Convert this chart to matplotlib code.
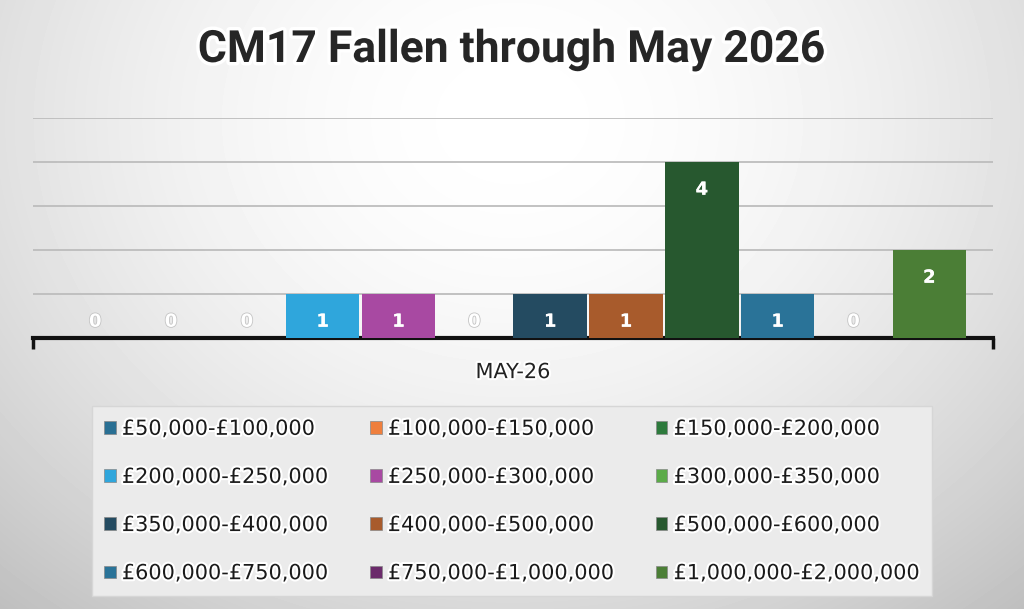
import numpy as np
import matplotlib
matplotlib.use("Agg")
import matplotlib.pyplot as plt
import matplotlib.patheffects as pe
from matplotlib.patches import Patch

# price bands (legend order) and fallen-through counts for May-26
bands = [
    "£50,000-£100,000", "£100,000-£150,000", "£150,000-£200,000",
    "£200,000-£250,000", "£250,000-£300,000", "£300,000-£350,000",
    "£350,000-£400,000", "£400,000-£500,000", "£500,000-£600,000",
    "£600,000-£750,000", "£750,000-£1,000,000", "£1,000,000-£2,000,000",
]
counts = [0, 0, 0, 1, 1, 0, 1, 1, 4, 1, 0, 2]
colors = [
    "#296f93", "#ef7f3d", "#2d7a3c",
    "#2fa6dc", "#a849a2", "#5bab48",
    "#244b61", "#a85b2c", "#27582f",
    "#2a7398", "#6b2b6b", "#4b7e36",
]
month = "MAY-26"
title = "CM17 Fallen through May 2026"

W, H = 1024, 609
fig = plt.figure(figsize=(W / 100, H / 100), dpi=100)

# radial grey background
bg = fig.add_axes([0, 0, 1, 1], zorder=-10)
yy, xx = np.mgrid[0:H, 0:W]
r = np.sqrt(((xx - 512) / 720.0) ** 2 + ((yy - 120) / 600.0) ** 2)
shade = np.clip(1.0 - 0.22 * r ** 1.8, 0, 1)
bg.imshow(shade, cmap="gray", vmin=0, vmax=1, aspect="auto",
          extent=[0, W, H, 0], interpolation="bilinear")
bg.axis("off")

ax = fig.add_axes([33 / W, 1 - 338 / H, 960 / W, 220 / H])
ax.patch.set_alpha(0)
x = np.arange(len(counts))
ax.bar(x, counts, width=0.97, color=colors, zorder=3)
ax.set_xlim(-0.82, 11.84)
ax.set_ylim(0, 5)

for yv in range(1, 6):
    ax.axhline(yv, color="#bdbdbd", lw=1.3, zorder=1)

for xi, v in zip(x, counts):
    ax.text(xi, max(v, 1) - 0.63, str(v), ha="center", va="center",
            color="white", fontsize=13, fontweight="bold", zorder=4,
            path_effects=[pe.withStroke(linewidth=1.2, foreground="#c4c4c4" if v == 0 else "none")])

for s in ["top", "right", "left"]:
    ax.spines[s].set_visible(False)
ax.spines["bottom"].set_linewidth(3)
ax.spines["bottom"].set_color("#111111")
ax.set_yticks([])
ax.set_xticks(list(ax.get_xlim()))
ax.set_xticklabels([])
ax.tick_params(axis="x", length=8, width=2.5, color="#111111", direction="out")

ax.text(0.5, -0.155, month, transform=ax.transAxes, ha="center", va="center",
        fontsize=15, color="#222222",
        path_effects=[pe.withStroke(linewidth=3, foreground="white")])

fig.text(0.5, 1 - 50 / H, title, ha="center", va="center", fontsize=32,
         fontweight="bold", family=["Roboto", "DejaVu Sans"], color="#262626",
         path_effects=[pe.withStroke(linewidth=5, foreground="white")])

# legend is filled row by row, matplotlib fills columns first
ncol = 3
nrow = len(bands) // ncol
order = [r * ncol + c for c in range(ncol) for r in range(nrow)]
handles = [Patch(facecolor=colors[i], edgecolor="#888888", lw=0.5) for i in order]
labels = [bands[i] for i in order]
leg = fig.legend(handles, labels, ncol=ncol, loc="center",
                 bbox_to_anchor=(512 / W, 1 - 501 / H),
                 fontsize=15, frameon=True, fancybox=False,
                 handlelength=0.55, handleheight=0.55, handletextpad=0.3,
                 columnspacing=2.0, labelspacing=1.35, borderpad=0.6)
leg.get_frame().set_facecolor("#ebebeb")
leg.get_frame().set_edgecolor("#d6d6d6")
leg.get_frame().set_alpha(1)
for t in leg.get_texts():
    t.set_color("#1a1a1a")
    t.set_path_effects([pe.withStroke(linewidth=3, foreground="white")])

fig.savefig("out.png", dpi=100)
